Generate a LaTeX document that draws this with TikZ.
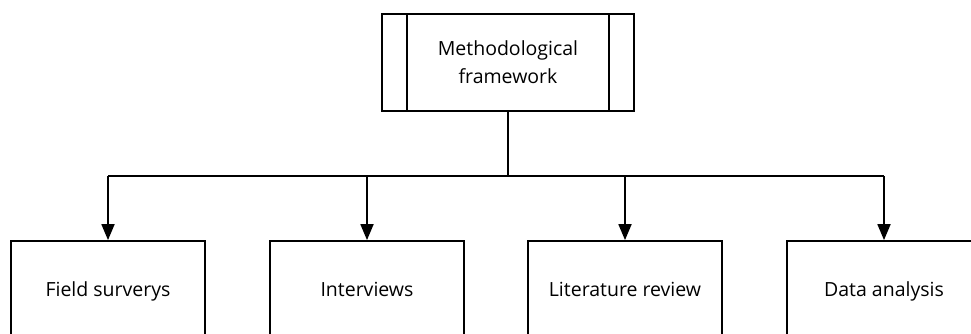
\documentclass[tikz,border=0pt]{standalone}
\usepackage{fontspec}
\setmainfont{Open Sans}
\usetikzlibrary{arrows.meta}
\begin{document}
\begin{tikzpicture}[x=1pt,y=-1pt,
  box/.style={draw,line width=1.8pt,minimum width=194pt,minimum height=94pt,inner sep=0pt,text height=20pt,text depth=4pt,font=\fontsize{19.5}{24}\selectfont},
  conn/.style={line width=1.8pt},
  arr/.style={conn,-{Triangle[width=13pt,length=16pt]}}]
\useasboundingbox (0,0) rectangle (971,333);
\node[draw,line width=1.8pt,inner sep=0pt,minimum width=252pt,minimum height=97pt,align=center,font=\fontsize{19.5}{28}\selectfont] (top) at (508,62.5) {Methodological\\framework};
\draw[line width=1.8pt] ([xshift=26pt]top.north west) -- ([xshift=26pt]top.south west);
\draw[line width=1.8pt] ([xshift=-26pt]top.north east) -- ([xshift=-26pt]top.south east);
\node[box] (b1) at (108,288) {Field surverys};
\node[box] (b2) at (367,288) {Interviews};
\node[box] (b3) at (625,288) {Literature review};
\node[box] (b4) at (884,288) {Data analysis};
\coordinate (j) at (508,176);
\draw[conn] (top.south) -- (j);
\draw[conn] (b1.north |- j) -- (b4.north |- j);
\foreach \b in {b1,b2,b3,b4}{\draw[arr] (\b.north |- j) -- (\b.north);}
\end{tikzpicture}
\end{document}
